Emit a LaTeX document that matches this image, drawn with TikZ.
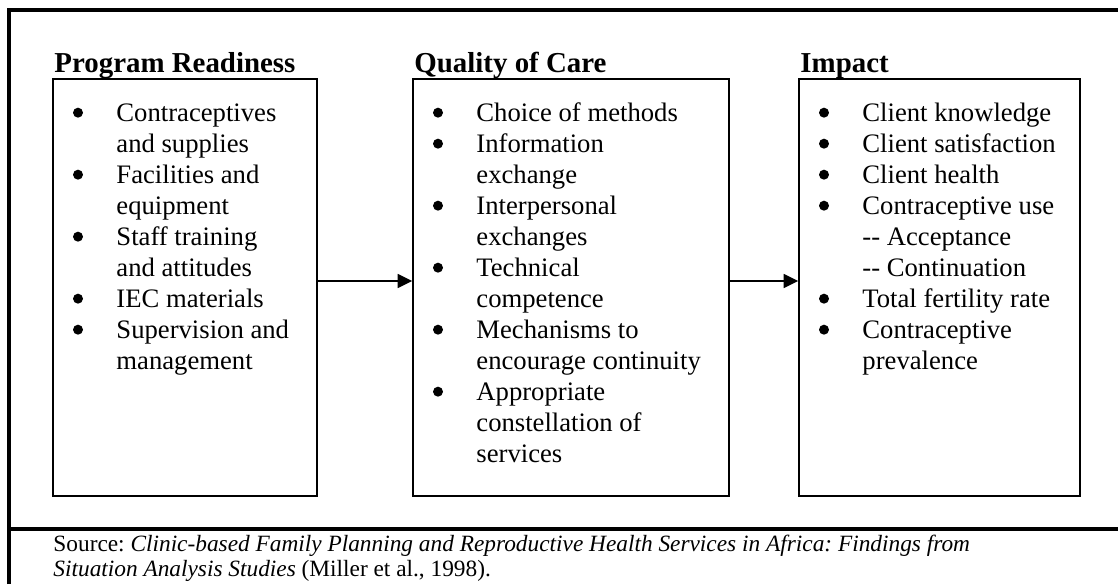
\documentclass[tikz,border=0pt]{standalone}
\usepackage{fontspec}
\setmainfont{Liberation Serif}
\usetikzlibrary{arrows.meta,fit}
\frenchspacing

% round bullet, bullet item and continuation line inside a panel
\newcommand\dotmark{\raisebox{1.5pt}{\tikz\fill (0pt,0pt) circle (2.25pt);}}
\newcommand\bitem[1]{\makebox[28.35pt][l]{\hspace*{8.8pt}\dotmark}#1}
\newcommand\cont[1]{\hspace*{28.35pt}#1}

\begin{document}
\begin{tikzpicture}[x=0.45pt,y=-0.45pt,
  frame/.style={line width=1.4pt,line join=miter},
  panel/.style={draw,line width=0.75pt,inner sep=0pt},
  heading/.style={anchor=base west,inner sep=0pt,font=\fontsize{13pt}{15pt}\selectfont\bfseries},
  items/.style={anchor=base west,inner sep=0pt},
  flow/.style={line width=0.9pt,-{Triangle[length=6.5pt,width=6.2pt]}}]
\useasboundingbox (0,0) rectangle (1118,584);

% table border and the rule above the source line
\draw[frame] (9,584) -- (9,10) -- (1118,10);
\draw[frame] (9,529) -- (1118,529);

% panels
\node[panel,fit={(53,79) (317,496)}] (ready) {};
\node[panel,fit={(413,79) (729,496)}] (quality) {};
\node[panel,fit={(799,79) (1080,496)}] (impact) {};

% headings
\node[heading] (hready) at (54,72) {Program Readiness};
\node[heading] (hquality) at (414,72) {Quality of Care};
\node[heading] (himpact) at (800,72) {Impact};

% panel contents
\node[items] (lready) at (53,121) {\parbox[t]{250pt}{\fontsize{12pt}{13.95pt}\selectfont
  \bitem{Contraceptives}\\
  \cont{and supplies}\\
  \bitem{Facilities and}\\
  \cont{equipment}\\
  \bitem{Staff training}\\
  \cont{and attitudes}\\
  \bitem{IEC materials}\\
  \bitem{Supervision and}\\
  \cont{management}}};

\node[items] (lquality) at (413,121) {\parbox[t]{250pt}{\fontsize{12pt}{13.95pt}\selectfont
  \bitem{Choice of methods}\\
  \bitem{Information}\\
  \cont{exchange}\\
  \bitem{Interpersonal}\\
  \cont{exchanges}\\
  \bitem{Technical}\\
  \cont{competence}\\
  \bitem{Mechanisms to}\\
  \cont{encourage continuity}\\
  \bitem{Appropriate}\\
  \cont{constellation of}\\
  \cont{services}}};

\node[items] (limpact) at (799,121) {\parbox[t]{250pt}{\fontsize{12pt}{13.95pt}\selectfont
  \bitem{Client knowledge}\\
  \bitem{Client satisfaction}\\
  \bitem{Client health}\\
  \bitem{Contraceptive use}\\
  \cont{-{}- Acceptance}\\
  \cont{-{}- Continuation}\\
  \bitem{Total fertility rate}\\
  \bitem{Contraceptive}\\
  \cont{prevalence}}};

% arrows between panels
\coordinate (flowrow) at (0,281);
\draw[flow] (ready.east |- flowrow) -- (quality.west |- flowrow);
\draw[flow] (quality.east |- flowrow) -- (impact.west |- flowrow);

% source line
\node[items] (source) at (53,551) {\parbox[t]{480pt}{\fontsize{10.5pt}{11.25pt}\selectfont
  Source: \textit{Clinic-based Family Planning and Reproductive Health Services in Africa: Findings from}\\
  \textit{Situation Analysis Studies} (Miller et al., 1998).}};
\end{tikzpicture}
\end{document}
